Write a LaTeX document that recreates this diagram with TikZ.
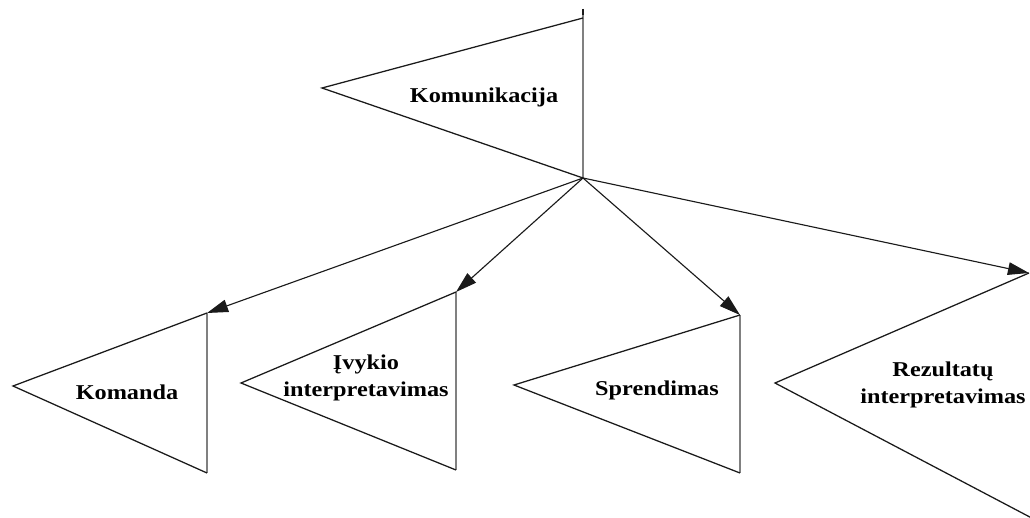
\documentclass[tikz,border=0pt]{standalone}
\usepackage{fontspec}
\setmainfont{Liberation Serif}[FakeStretch=1.15]
\usetikzlibrary{arrows.meta}
\definecolor{edge}{HTML}{1A1A1A}
\definecolor{side}{HTML}{808080}

\begin{document}
\begin{tikzpicture}[x=0.025cm, y=-0.025cm,
  lbl/.style={font=\fontsize{15}{19}\selectfont\bfseries, align=center, inner sep=0pt},
  rim/.style={draw=edge, line width=0.9pt, line join=miter},
  wall/.style={draw=side, line width=1.1pt},
  ar/.style={-{Triangle[length=15pt, width=9pt]}, line width=0.8pt, color=edge},
]
\useasboundingbox (0,0) rectangle (1030,518);

% top flag
\coordinate (hub) at (583,178);
\coordinate (kt) at (583,18);
\coordinate (kl) at (322,88);
\draw[wall] (583,9) -- (hub);
\draw[edge, line width=1.3pt] (583,9) -- (583,15);
\draw[rim] (kt) -- (kl) -- (hub);
\node[lbl] (kom) at (484,97) {Komunikacija};

% lower flags: tip, left corner, foot
\coordinate (t1) at (207,313); \coordinate (l1) at (13,386);  \coordinate (f1) at (207,473);
\coordinate (t2) at (456,292); \coordinate (l2) at (241,383); \coordinate (f2) at (456,470);
\coordinate (t3) at (740,315); \coordinate (l3) at (514,385); \coordinate (f3) at (740,473);
\coordinate (t4) at (1029,273); \coordinate (l4) at (775,383); \coordinate (f4) at (1045,525);

\draw[wall] (t1) -- (f1);
\draw[wall] (t2) -- (f2);
\draw[wall] (t3) -- (f3);
\draw[rim] (t1) -- (l1) -- (f1);
\draw[rim] (t2) -- (l2) -- (f2);
\draw[rim] (t3) -- (l3) -- (f3);
\draw[rim] (t4) -- (l4) -- (f4);

\node[lbl] (cmd) at (127,392) {Komanda};
\node[lbl] (ivk) at (366,378) {Įvykio\\interpretavimas};
\node[lbl] (spr) at (657,390) {Sprendimas};
\node[lbl] (rez) at (943,385) {Rezultatų\\interpretavimas};

% links out of the hub
\draw[ar] (hub) -- (t1);
\draw[ar] (hub) -- (t2);
\draw[ar] (hub) -- (t3);
\draw[ar] (hub) -- (t4);
\end{tikzpicture}
\end{document}
